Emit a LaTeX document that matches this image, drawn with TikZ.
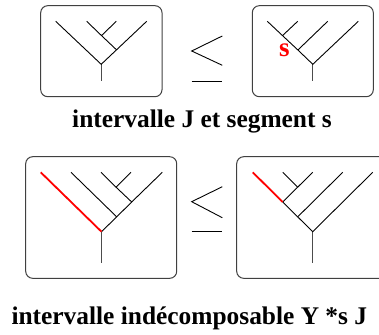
\documentclass[tikz,border=0pt]{standalone}
\usepackage{fontspec}
\setmainfont{Liberation Serif}
\begin{document}
\begin{tikzpicture}[x=1pt,y=-1pt,
  framebox/.style={draw=black!75,line width=1pt,rounded corners=7pt,inner sep=0pt},
  treeline/.style={draw=black,line width=0.9pt},
  trunkline/.style={draw=black!70,line width=1pt},
  redline/.style={draw=red,line width=1.8pt},
  leqline/.style={draw=black,line width=0.9pt},
  caption/.style={font=\fontsize{25.4}{30}\selectfont\bfseries,anchor=base,inner sep=0pt},
  seglabel/.style={font=\fontsize{27}{30}\selectfont\bfseries,text=red,inner sep=0pt}]
\clip (0,0) rectangle (379,334);
\useasboundingbox (0,0) rectangle (379,334);

% frames
\node[framebox,minimum width=121.3pt,minimum height=91pt] (boxTL) at (101.35,51.2) {};
\node[framebox,minimum width=121pt,minimum height=91pt] (boxTR) at (312.8,51.2) {};
\node[framebox,minimum width=151pt,minimum height=121.6pt] (boxBL) at (101.2,217.5) {};
\node[framebox,minimum width=151pt,minimum height=121.6pt] (boxBR) at (312.2,217.5) {};

% ---------- top-left tree
\coordinate (tlT) at (101.2,81);
\coordinate (tlR) at (101.2,64.3);
\coordinate (tlA) at (116.7,50);
\coordinate (tlG) at (101.5,35.6);
\coordinate (tl1) at (55.7,21.3);
\coordinate (tl2) at (86.7,21.3);
\coordinate (tl3) at (116.3,21.3);
\coordinate (tl4) at (146.7,21.3);
\draw[trunkline] (tlT) -- (tlR);
\draw[treeline] (tl1) -- (tlR) -- (tl4);
\draw[treeline] (tl2) -- (tlG) -- (tlA);
\draw[treeline] (tl3) -- (tlG);

% ---------- top-right tree
\coordinate (trT) at (312.8,81);
\coordinate (trR) at (312.8,64.3);
\coordinate (trH) at (297.9,50);
\coordinate (trI) at (282.5,35.6);
\coordinate (tr1) at (267.3,21.3);
\coordinate (tr2) at (297.7,21.3);
\coordinate (tr3) at (327.7,21.3);
\coordinate (tr4) at (358.3,21.3);
\draw[trunkline] (trT) -- (trR);
\draw[treeline] (tr1) -- (trI) -- (trH) -- (trR) -- (tr4);
\draw[treeline] (tr2) -- (trI);
\draw[treeline] (tr3) -- (trH);
\node[seglabel] (segs) at (284.3,50) {s};

% ---------- bottom-left tree
\coordinate (blT) at (101.5,262.7);
\coordinate (blR) at (101.5,231.7);
\coordinate (blA) at (116.7,216.85);
\coordinate (blB) at (131.7,202);
\coordinate (blC) at (116,187.15);
\coordinate (bl1) at (40.7,172.3);
\coordinate (bl2) at (71,172.3);
\coordinate (bl3) at (101,172.3);
\coordinate (bl4) at (131,172.3);
\coordinate (bl5) at (162.3,172.3);
\draw[trunkline] (blT) -- (blR);
\draw[treeline] (blR) -- (blA) -- (blB) -- (bl5);
\draw[treeline] (bl2) -- (blA);
\draw[treeline] (bl3) -- (blC) -- (blB);
\draw[treeline] (bl4) -- (blC);
\draw[redline] (bl1) -- (blR);

% ---------- bottom-right tree
\coordinate (brT) at (312.7,262.7);
\coordinate (brR) at (312.7,231.7);
\coordinate (brF) at (297.7,216.85);
\coordinate (brD) at (282.7,202);
\coordinate (brE) at (297.7,187.15);
\coordinate (br1) at (252.7,172.3);
\coordinate (br2) at (282.7,172.3);
\coordinate (br3) at (312.7,172.3);
\coordinate (br4) at (342.7,172.3);
\coordinate (br5) at (372.7,172.3);
\draw[trunkline] (brT) -- (brR);
\draw[treeline] (brD) -- (brF) -- (brR) -- (br5);
\draw[treeline] (br4) -- (brF);
\draw[treeline] (br2) -- (brE) -- (brD);
\draw[treeline] (br3) -- (brE);
\draw[redline] (br1) -- (brD);

% ---------- leq signs
\coordinate (lqa1) at (222.3,36);
\coordinate (lqa2) at (191.7,51);
\coordinate (lqa3) at (222.3,65.3);
\coordinate (lqa4) at (191.7,81);
\coordinate (lqa5) at (222.3,81);
\draw[leqline] (lqa1) -- (lqa2) -- (lqa3);
\draw[leqline] (lqa4) -- (lqa5);
\coordinate (lqb1) at (222.3,186.7);
\coordinate (lqb2) at (191.7,201.7);
\coordinate (lqb3) at (222.3,217.7);
\coordinate (lqb4) at (191.7,231.7);
\coordinate (lqb5) at (222.3,231.7);
\draw[leqline] (lqb1) -- (lqb2) -- (lqb3);
\draw[leqline] (lqb4) -- (lqb5);

% ---------- captions
\node[caption] (cap1) at (202,127) {intervalle J et segment s};
\node[caption] (cap2) at (189.3,324) {intervalle indécomposable Y *s J};
\end{tikzpicture}
\end{document}
